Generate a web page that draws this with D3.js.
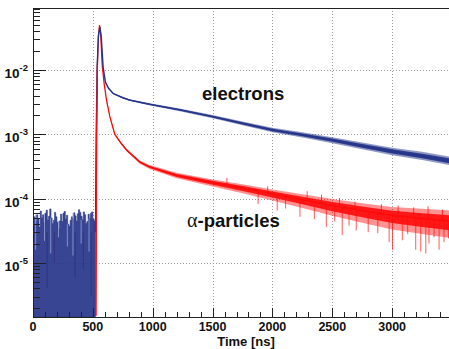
<!DOCTYPE html>
<html>
<head>
<meta charset="utf-8">
<script src="https://cdn.jsdelivr.net/npm/d3@7"></script>
<style>
  body { margin: 0; background: #fff; }
  svg { display: block; }
  text { font-family: "Liberation Sans", Arial, sans-serif; font-weight: bold; fill: #111; }
</style>
</head>
<body>
<svg id="chart" width="449" height="349"></svg>
<script>
// pre-trigger baseline noise (histogram tops, every 10 ns)
const preT = [0,10,20,30,40,50,60,70,80,90,100,110,120,130,140,150,160,170,180,190,200,210,220,230,240,250,260,270,280,290,300,310,320,330,340,350,360,370,380,390,400,410,420,430,440,450,460,470,480,490,500,510,520];
const preV = [3.8e-5,5.2e-5,4.4e-5,5.6e-5,4.9e-5,3.6e-5,6.4e-5,5.1e-5,5.6e-5,4.2e-5,5.9e-5,6.6e-5,4.7e-5,5.3e-5,6.9e-5,5.0e-5,4.1e-5,4.6e-5,6.1e-5,5.2e-5,4.3e-5,3.4e-5,4.5e-5,5.7e-5,4.4e-5,5.9e-5,6.3e-5,4.8e-5,5.5e-5,4.0e-5,3.7e-5,4.6e-5,5.2e-5,4.8e-5,6.0e-5,5.4e-5,4.5e-5,5.8e-5,6.7e-5,6.1e-5,5.3e-5,4.7e-5,6.2e-5,5.6e-5,4.1e-5,4.4e-5,5.7e-5,4.9e-5,5.9e-5,6.2e-5,4.8e-5,4.5e-5,4.0e-5];
// light streaks (deep dips) and red traces visible inside the pre-trigger block
const preDipT = [22, 96, 148, 213, 287, 334, 402, 468];
const preDipV = [1.6e-5, 2.2e-5, 1.4e-5, 2.5e-5, 1.8e-5, 1.3e-5, 2.0e-5, 1.5e-5];
const preRedT = [118, 178, 352, 420, 486];
const preRedV = [4e-6, 1.0e-5, 6e-6, 8e-6, 3e-6];

// electrons: time [ns], amplitude, noise half-width (decades)
const electronT = [522,528,536,546,558,570,586,605,631,670,750,808,947,1000,1225,1500,1750,2000,2250,2500,2750,3000,3250,3500];
const electronV = [3e-5,1e-3,1.1e-2,3.3e-2,4.7e-2,3.3e-2,1.1e-2,6.5e-3,5.2e-3,4.3e-3,3.7e-3,3.4e-3,3.0e-3,2.86e-3,2.4e-3,1.88e-3,1.48e-3,1.17e-3,9.8e-4,8.1e-4,6.6e-4,5.4e-4,4.6e-4,3.8e-4];
const electronSpread = [0,0,0,0,0,0,0,0.01,0.01,0.011,0.012,0.014,0.016,0.018,0.021,0.025,0.03,0.035,0.041,0.047,0.053,0.06,0.064,0.068];

// alpha particles
const alphaT = [525,528,531,538,547,556,566,578,595,614,642,683,730,781,892,975,1200,1500,1750,2000,2250,2500,2750,3000,3250,3500];
const alphaV = [1.5e-6,3e-5,1e-3,1.2e-2,3.5e-2,5e-2,3.5e-2,1.2e-2,6e-3,3.4e-3,1.88e-3,1e-3,7.5e-4,5.7e-4,3.7e-4,3.1e-4,2.3e-4,1.77e-4,1.45e-4,1.18e-4,9.6e-5,7.8e-5,6.5e-5,5.5e-5,4.9e-5,4.4e-5];
const alphaUp = [0,0,0,0,0,0,0,0,0,0.01,0.012,0.015,0.018,0.02,0.025,0.03,0.04,0.05,0.06,0.07,0.085,0.1,0.115,0.13,0.15,0.17];
const alphaDown = [0,0,0,0,0,0,0,0,0,0.01,0.012,0.015,0.018,0.02,0.025,0.032,0.045,0.06,0.08,0.1,0.13,0.16,0.19,0.22,0.24,0.26];
// spikes of the alpha trace (downward and upward excursions)
const spikeT = [1880,2040,2110,2230,2350,2450,2520,2583,2640,2700,2800,2880,2975,3003,3085,3130,3197,3239,3281,3308,3350,3392,3433,3470];
const spikeV = [8.2e-5,6.5e-5,7.0e-5,5.2e-5,4.8e-5,3.6e-5,4.4e-5,2.7e-5,3.8e-5,3.2e-5,3.0e-5,2.9e-5,2.1e-5,1.6e-5,2.25e-5,2.8e-5,1.6e-5,1.5e-5,1.4e-5,2.0e-5,2.5e-5,1.6e-5,2.1e-5,2.4e-5];
const spikeUpT = [1620,1960,2290,2410,2560,2690,2910,3050,3180,3300,3420];
const spikeUpV = [2.1e-4,1.55e-4,1.3e-4,1.15e-4,1.02e-4,9.0e-5,8.2e-5,7.8e-5,7.3e-5,7.6e-5,6.8e-5];

const xTicks = [0,500,1000,1500,2000,2500,3000];
const yDecades = [1e-2,1e-3,1e-4,1e-5];
const yExp = ['-2','-3','-4','-5'];

const svg = d3.select('#chart');
const mLeft = 33, mRight = 452, mTop = 8, mBottom = 317;

const x = d3.scaleLinear().domain([0, 3500]).range([mLeft, mRight]);
const y = d3.scaleLog().domain([1.44e-6, 0.092]).range([mBottom, mTop]).clamp(true);

const blue = '#26358a';
const red = '#ff0a0a';

svg.append('defs').append('clipPath').attr('id', 'clip')
  .append('rect').attr('x', mLeft).attr('y', mTop).attr('width', mRight - mLeft).attr('height', mBottom - mTop);

// grid
const grid = svg.append('g').attr('stroke', '#9a9a9a').attr('stroke-width', 1).attr('stroke-dasharray', '1,2');
grid.selectAll('.gx').data(xTicks.filter(d => d > 0)).enter().append('line')
  .attr('x1', d => Math.round(x(d)) + 0.5).attr('x2', d => Math.round(x(d)) + 0.5)
  .attr('y1', mTop).attr('y2', mBottom);
grid.selectAll('.gy').data(yDecades).enter().append('line')
  .attr('x1', mLeft).attr('x2', mRight)
  .attr('y1', d => Math.round(y(d)) + 0.5).attr('y2', d => Math.round(y(d)) + 0.5);

const plot = svg.append('g').attr('clip-path', 'url(#clip)');

// value of the alpha trace at time t, drawn along its own polyline
const alphaAt = t => {
  const i = Math.max(1, Math.min(d3.bisectLeft(alphaT, t), alphaT.length - 1));
  const f = (t - alphaT[i - 1]) / (alphaT[i] - alphaT[i - 1]);
  return Math.pow(10, Math.log10(alphaV[i - 1]) * (1 - f) + Math.log10(alphaV[i]) * f);
};

// alpha trace: outer band, inner band, spikes, core line
const alphaPts = alphaT.map((t, i) => ({ t, v: alphaV[i], up: alphaUp[i], dn: alphaDown[i] }));
const band = (k, upKey, dnKey) => d3.area().x(d => x(d.t))
  .y0(d => y(d.v / Math.pow(10, k * d[dnKey]))).y1(d => y(d.v * Math.pow(10, k * d[upKey])));
plot.append('path').datum(alphaPts).attr('fill', red).attr('fill-opacity', 0.45).attr('d', band(1, 'up', 'dn'));
plot.append('path').datum(alphaPts).attr('fill', red).attr('fill-opacity', 0.9).attr('d', band(0.55, 'up', 'dn'));
plot.selectAll('.spike').data(spikeT).enter().append('line')
  .attr('stroke', red).attr('stroke-width', 0.9).attr('stroke-opacity', 0.75)
  .attr('x1', d => x(d)).attr('x2', d => x(d))
  .attr('y1', d => y(alphaAt(d))).attr('y2', (d, i) => y(spikeV[i]));
plot.selectAll('.spikeUp').data(spikeUpT).enter().append('line')
  .attr('stroke', red).attr('stroke-width', 0.9).attr('stroke-opacity', 0.8)
  .attr('x1', d => x(d)).attr('x2', d => x(d))
  .attr('y1', d => y(alphaAt(d))).attr('y2', (d, i) => y(spikeUpV[i]));
plot.append('path').datum(alphaPts)
  .attr('fill', 'none').attr('stroke', red).attr('stroke-width', 1.3)
  .attr('d', d3.line().x(d => x(d.t)).y(d => y(d.v)));

// red traces in the pre-trigger block (below the blue)
plot.selectAll('.preRed').data(preRedT).enter().append('line')
  .attr('stroke', '#b0102a').attr('stroke-width', 1)
  .attr('x1', d => x(d)).attr('x2', d => x(d))
  .attr('y1', y(3e-5)).attr('y2', (d, i) => y(preRedV[i]));

// pre-trigger noise (blue histogram)
const prePts = preT.map((t, i) => ({ t, v: preV[i] }));
plot.append('path').datum(prePts)
  .attr('fill', blue).attr('fill-opacity', 0.92).attr('stroke', blue).attr('stroke-width', 0.6)
  .attr('d', d3.area().curve(d3.curveStepAfter).x(d => x(d.t)).y0(mBottom).y1(d => y(d.v)));
plot.selectAll('.dip').data(preDipT).enter().append('line')
  .attr('stroke', '#9aa3d6').attr('stroke-width', 1).attr('stroke-opacity', 0.8)
  .attr('x1', d => x(d)).attr('x2', d => x(d))
  .attr('y1', d => y(preV[d3.bisectLeft(preT, d)])).attr('y2', (d, i) => y(preDipV[i]));

// electrons trace
const elPts = electronT.map((t, i) => ({ t, v: electronV[i], s: electronSpread[i] }));
plot.append('path').datum(elPts).attr('fill', blue).attr('fill-opacity', 0.5).attr('d', band(1, 's', 's'));
plot.append('path').datum(elPts).attr('fill', blue).attr('fill-opacity', 0.95).attr('d', band(0.55, 's', 's'));
plot.append('path').datum(elPts)
  .attr('fill', 'none').attr('stroke', blue).attr('stroke-width', 1.4)
  .attr('d', d3.line().x(d => x(d.t)).y(d => y(d.v)));

// red onset edge on top
plot.append('path').datum(alphaPts.slice(0, 4))
  .attr('fill', 'none').attr('stroke', red).attr('stroke-width', 1.2)
  .attr('d', d3.line().x(d => x(d.t)).y(d => y(d.v)));

// frame
const frame = svg.append('g').attr('stroke', '#222').attr('stroke-width', 1).attr('fill', 'none');
frame.append('line').attr('x1', mLeft + 0.5).attr('x2', mLeft + 0.5).attr('y1', mTop).attr('y2', mBottom);
frame.append('line').attr('x1', mLeft).attr('x2', mRight).attr('y1', mBottom + 0.5).attr('y2', mBottom + 0.5);
frame.append('line').attr('x1', mLeft).attr('x2', mRight).attr('y1', mTop + 0.5).attr('y2', mTop + 0.5);

// y ticks (inward, log minor)
const yMinor = [];
[1e-6, 1e-5, 1e-4, 1e-3, 1e-2].forEach(dec => {
  for (let k = 2; k <= 9; k++) {
    const v = dec * k;
    if (v >= y.domain()[0] && v <= y.domain()[1]) yMinor.push(v);
  }
});
frame.selectAll('.ymin').data(yMinor).enter().append('line')
  .attr('x1', mLeft).attr('x2', mLeft + 7)
  .attr('y1', d => Math.round(y(d)) + 0.5).attr('y2', d => Math.round(y(d)) + 0.5);
frame.selectAll('.ymaj').data(yDecades).enter().append('line')
  .attr('x1', mLeft).attr('x2', mLeft + 13)
  .attr('y1', d => Math.round(y(d)) + 0.5).attr('y2', d => Math.round(y(d)) + 0.5);

// x ticks (inward)
const xMinor = d3.range(0, 3501, 100);
frame.selectAll('.xmin').data(xMinor).enter().append('line')
  .attr('x1', d => Math.round(x(d)) + 0.5).attr('x2', d => Math.round(x(d)) + 0.5)
  .attr('y1', mBottom).attr('y2', d => d % 500 === 0 ? mBottom - 9 : mBottom - 5);

// y labels
const yl = svg.selectAll('.ylab').data(yDecades).enter().append('text')
  .attr('x', 28).attr('y', d => y(d) + 8).attr('text-anchor', 'end');
yl.append('tspan').style('font-size', '13.5px').text('10');
yl.append('tspan').style('font-size', '9.5px').attr('dy', -7).text((d, i) => yExp[i]);

// x labels
svg.selectAll('.xlab').data(xTicks).enter().append('text')
  .attr('x', d => x(d)).attr('y', 331).attr('text-anchor', 'middle')
  .style('font-size', '12.5px').text(d => d);

svg.append('text').attr('x', 246).attr('y', 346).attr('text-anchor', 'middle')
  .style('font-size', '13px').text('Time [ns]');

svg.append('text').attr('x', 202).attr('y', 100).style('font-size', '18.5px').text('electrons');
const at = svg.append('text').attr('x', 187).attr('y', 227).style('font-size', '18.5px');
at.append('tspan').style('font-family', '"Liberation Serif", serif').style('font-weight', 'normal').style('font-size', '20px').text('α');
at.append('tspan').text('-particles');
</script>
</body>
</html>
